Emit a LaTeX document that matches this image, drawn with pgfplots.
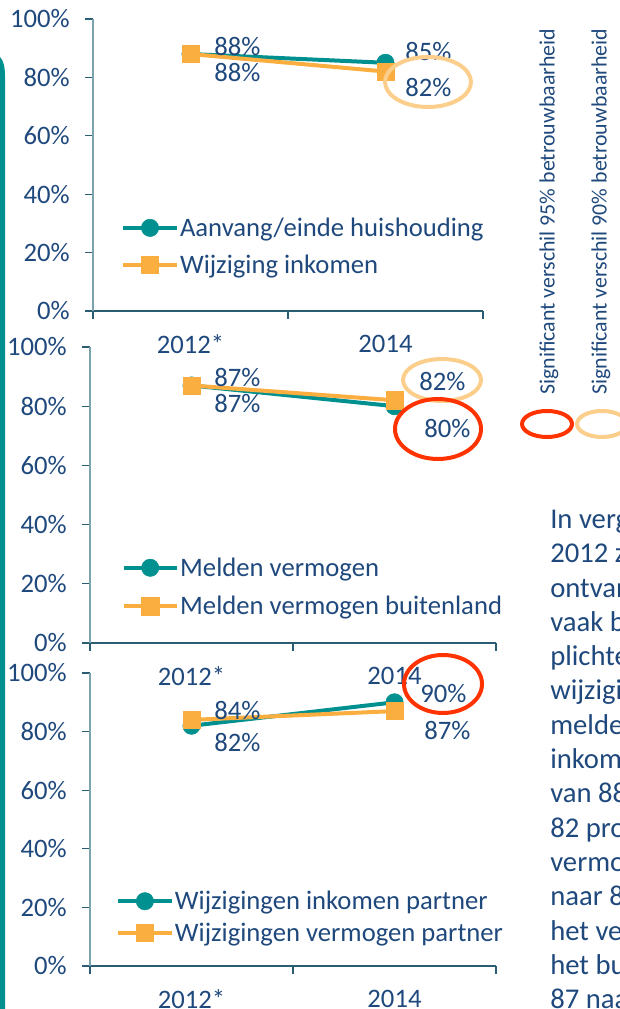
\documentclass[border=0pt]{standalone}
\usepackage{pgfplots}
\usepackage{pgfplotstable}
\pgfplotsset{compat=1.18}
\usepackage{fontspec}
\setmainfont{Carlito}
\definecolor{tealc}{RGB}{0,144,143}
\definecolor{orangec}{RGB}{251,174,64}
\definecolor{txt}{RGB}{31,73,125}
\definecolor{yax}{RGB}{123,163,174}
\definecolor{xax}{RGB}{43,93,114}
\definecolor{redc}{RGB}{255,51,0}
\definecolor{lorange}{RGB}{252,206,140}

\pgfplotstableread{
x y xo yo
0.5 88 47 8
1.5 85 43 11
}\tAa
\pgfplotstableread{
x y xo yo
0.5 88 47 -18
1.5 82 43 -16
}\tAb
\pgfplotstableread{
x y xo yo
0.5 87 46 -18.5
1.5 80 53 -22
}\tBa
\pgfplotstableread{
x y xo yo
0.5 87 46 7.5
1.5 82 48 19
}\tBb
\pgfplotstableread{
x y xo yo
0.5 82 46 -17
1.5 90 49 9
}\tCa
\pgfplotstableread{
x y xo yo
0.5 84 46 9
1.5 87 53 -19
}\tCb

\newcommand{\bigf}{\fontsize{20}{24}\selectfont}

\pgfplotsset{
 panel/.style={
  scale only axis, xmin=0,xmax=2,ymin=0,ymax=100,
  axis lines*=left,
  x axis line style={xax, line width=0.8pt},
  y axis line style={yax, line width=1.5pt},
  xtick={0,1,2}, xticklabels={},
  extra x ticks={0.5,1.5}, extra x tick labels={2012*,2014},
  extra x tick style={major tick length=0pt, tick label style={yshift=-14.5pt}},
  ytick={0,20,...,100},
  yticklabel={\pgfmathprintnumber{\tick}\%},
  yticklabel style={xshift=-8pt},
  tick align=outside, major tick length=6pt,
  xtick pos=left, ytick pos=left,
  every tick/.style={xax, line width=0.8pt},
  tick label style={font=\bigf, text=txt},
  /pgf/number format/assume math mode=true,
  clip=false,
  legend style={draw=none, fill=none, font=\bigf, text=txt, anchor=west,
    inner sep=0pt, nodes={inner sep=1pt}},
  legend cell align=left,
  legend image code/.code={\draw[mark repeat=2,mark phase=2] plot coordinates {(0pt,0pt)(20pt,0pt)(40pt,0pt)};},
 },
 ser/.style={line width=3pt, mark size=6.5pt, mark options={solid, line width=0.4pt},
    nodes near coords={\pgfmathprintnumber{\pgfplotspointmeta}\%},
    point meta=y,
    visualization depends on={\thisrow{xo}\as\xo},
    visualization depends on={\thisrow{yo}\as\yo},
    nodes near coords style={anchor=center, xshift=\xo*0.75pt, yshift=\yo*0.75pt, font=\bigf, text=txt, inner sep=0pt},
 },
 tealser/.style={ser, color=tealc, mark=*},
 orser/.style={ser, color=orangec, mark=square*},
}

\begin{document}
\begin{tikzpicture}
\useasboundingbox (0,0) rectangle (465pt,756.75pt);
\clip (0,0) rectangle (465pt,756.75pt);

% Panel 1
\begin{axis}[panel, at={(69.75pt,523.5pt)}, anchor=south west,
  width=292.5pt, height=219pt,
  legend style={at={(axis description cs:0.072,0.221)}, row sep=10.5pt}]
\addplot[tealser] table[x=x,y=y] {\tAa};
\addlegendentry{Aanvang/einde huishouding}
\addplot[orser] table[x=x,y=y] {\tAb};
\addlegendentry{Wijziging inkomen}
\end{axis}

% Panel 2
\begin{axis}[panel, at={(67.5pt,274.5pt)}, anchor=south west,
  width=304.5pt, height=222pt,
  legend style={at={(axis description cs:0.077,0.189)}, row sep=11.5pt}]
\addplot[tealser] table[x=x,y=y] {\tBa};
\addlegendentry{Melden vermogen}
\addplot[orser] table[x=x,y=y] {\tBb};
\addlegendentry{Melden vermogen buitenland}
\end{axis}

% Panel 3
\begin{axis}[panel, at={(67.5pt,32.25pt)}, anchor=south west,
  width=304.5pt, height=219.75pt,
  legend style={at={(axis description cs:0.064,0.167)}, row sep=6.5pt}]
\addplot[tealser] table[x=x,y=y] {\tCa};
\addlegendentry{Wijzigingen inkomen partner}
\addplot[orser] table[x=x,y=y] {\tCb};
\addlegendentry{Wijzigingen vermogen partner}
\end{axis}

\begin{scope}[shift={(0pt,756.75pt)}, x=0.75pt, y=-0.75pt]
% left teal bar
\fill[tealc] (0,57) .. controls (3,60) and (5,66) .. (5,76) -- (5,1012) -- (0,1012) -- cycle;
% ellipses
\draw[lorange, line width=3pt] (428,82) ellipse [x radius=43, y radius=25];
\draw[lorange, line width=3pt] (442,380) ellipse [x radius=39, y radius=21];
\draw[redc, line width=3pt] (438,429) ellipse [x radius=43, y radius=30];
\draw[redc, line width=3pt] (443,684) ellipse [x radius=39, y radius=29];
\draw[redc, line width=3pt] (547,424) ellipse [x radius=25, y radius=13];
\draw[lorange, line width=3pt] (602,424) ellipse [x radius=25, y radius=13];
% rotated legend texts
\node[rotate=90, anchor=west, inner sep=0pt, text=txt, font=\fontsize{16.4}{19}\selectfont] at (549,395) {Significant verschil 95\% betrouwbaarheid};
\node[rotate=90, anchor=west, inner sep=0pt, text=txt, font=\fontsize{16.4}{19}\selectfont] at (601,395) {Significant verschil 90\% betrouwbaarheid};
% paragraph (cut off at the right edge, as in the original)
\foreach \t [count=\i from 0] in {In vergelijking met,2012 zijn,ontvangers,vaak beter op de hoogte,plichten rond,wijzigingen. Het,melden van,inkomen daalde,van 88 naar,82 procent,vermogen van 87,naar 80 procent,het vermogen in,het buitenland van,87 naar 82}
  \node[anchor=base west, inner sep=0pt, text=txt, font=\fontsize{21.5}{26}\selectfont] at (550,{528.5+34.3*\i}) {\t};
\end{scope}
\end{tikzpicture}
\end{document}
